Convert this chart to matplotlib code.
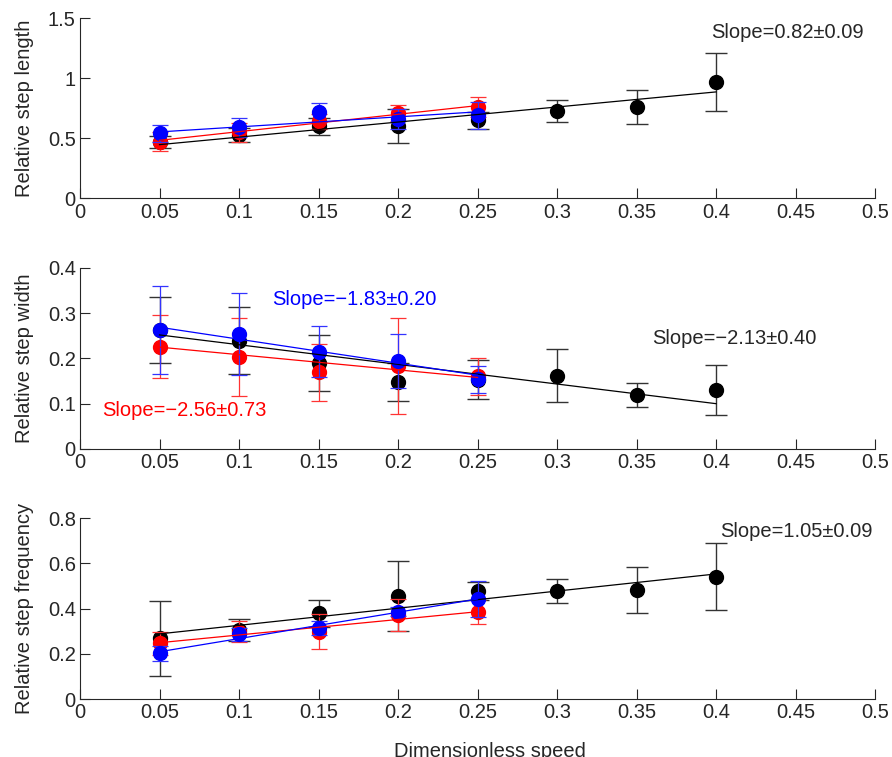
import numpy as np
import matplotlib
matplotlib.use("Agg")
import matplotlib.pyplot as plt

plt.rcParams['font.family'] = ['Liberation Sans', 'DejaVu Sans']

# speeds
x_all = [0.05, 0.1, 0.15, 0.2, 0.25, 0.3, 0.35, 0.4]
x_sub = [0.05, 0.1, 0.15, 0.2, 0.25]

# relative step length
len_k = [0.47, 0.525, 0.60, 0.60, 0.65, 0.725, 0.76, 0.97]
len_k_err = [0.05, 0.06, 0.07, 0.14, 0.07, 0.09, 0.14, 0.24]
len_r = [0.47, 0.55, 0.64, 0.71, 0.76]
len_r_err = [0.08, 0.08, 0.06, 0.07, 0.08]
len_b = [0.54, 0.59, 0.715, 0.66, 0.69]
len_b_err = [0.07, 0.08, 0.08, 0.08, 0.11]
len_fit_k = [0.447, 0.886]
len_fit_r = [0.483, 0.772]
len_fit_b = [0.553, 0.72]

# relative step width
wid_k = [0.263, 0.239, 0.189, 0.147, 0.153, 0.162, 0.119, 0.13]
wid_k_err = [0.072, 0.074, 0.062, 0.042, 0.043, 0.059, 0.027, 0.055]
wid_r = [0.226, 0.204, 0.169, 0.183, 0.161]
wid_r_err = [0.07, 0.086, 0.062, 0.106, 0.041]
wid_b = [0.263, 0.254, 0.215, 0.194, 0.154]
wid_b_err = [0.098, 0.09, 0.057, 0.06, 0.03]
wid_fit_k = [0.252, 0.10]
wid_fit_r = [0.225, 0.158]
wid_fit_b = [0.269, 0.163]

# relative step frequency
frq_k = [0.268, 0.305, 0.379, 0.456, 0.478, 0.478, 0.482, 0.541]
frq_k_err = [0.165, 0.048, 0.06, 0.155, 0.04, 0.052, 0.10, 0.147]
frq_r = [0.246, 0.298, 0.298, 0.372, 0.386]
frq_r_err = [0.05, 0.047, 0.079, 0.07, 0.054]
frq_b = [0.202, 0.286, 0.313, 0.386, 0.442]
frq_b_err = [0.034, 0.03, 0.03, 0.02, 0.08]
frq_fit_k = [0.288, 0.553]
frq_fit_r = [0.249, 0.386]
frq_fit_b = [0.209, 0.442]

fig = plt.figure(figsize=(8.92, 7.57), dpi=100)
left, width = 0.0897, 0.8913
ax1 = fig.add_axes([left, 0.738, width, 0.238])
ax2 = fig.add_axes([left, 0.407, width, 0.239])
ax3 = fig.add_axes([left, 0.0766, width, 0.239])

fs = 14.5

def panel(ax, k, ke, r, re, b, be, fk, fr, fb):
    ax.errorbar(x_all, k, yerr=ke, fmt='o', color='black', ecolor='#333333',
                ms=10, elinewidth=1, capsize=8, capthick=1, zorder=3)
    ax.errorbar(x_sub, r, yerr=re, fmt='o', color='#ff0000', ecolor='#ff3333',
                ms=10, elinewidth=0.9, capsize=6, capthick=0.9, zorder=4)
    ax.errorbar(x_sub, b, yerr=be, fmt='o', color='#0000ff', ecolor='#3333ff',
                ms=10, elinewidth=0.9, capsize=6, capthick=0.9, zorder=5)
    ax.plot([x_all[0], x_all[-1]], fk, color='black', lw=0.9, zorder=6)
    ax.plot([x_sub[0], x_sub[-1]], fr, color='#ff0000', lw=0.9, zorder=6)
    ax.plot([x_sub[0], x_sub[-1]], fb, color='#0000ff', lw=0.9, zorder=6)
    ax.set_xlim(0, 0.5)
    ax.set_xticks([0, 0.05, 0.1, 0.15, 0.2, 0.25, 0.3, 0.35, 0.4, 0.45, 0.5])
    ax.set_xticklabels(['0', '0.05', '0.1', '0.15', '0.2', '0.25', '0.3',
                        '0.35', '0.4', '0.45', '0.5'])
    for s in ['top', 'right']:
        ax.spines[s].set_visible(False)
    for s in ['left', 'bottom']:
        ax.spines[s].set_color('#262626')
    ax.tick_params(direction='in', length=7, width=0.8, labelsize=fs,
                   colors='#262626', pad=3)

panel(ax1, len_k, len_k_err, len_r, len_r_err, len_b, len_b_err,
      len_fit_k, len_fit_r, len_fit_b)
ax1.set_ylim(0, 1.5)
ax1.set_yticks([0, 0.5, 1, 1.5])
ax1.set_yticklabels(['0', '0.5', '1', '1.5'])
ax1.set_ylabel('Relative step length', fontsize=fs, color='#262626')
ax1.text(0.397, 1.383, 'Slope=0.82\u00b10.09', fontsize=fs, va='center', color='#262626')

panel(ax2, wid_k, wid_k_err, wid_r, wid_r_err, wid_b, wid_b_err,
      wid_fit_k, wid_fit_r, wid_fit_b)
ax2.set_ylim(0, 0.4)
ax2.set_yticks([0, 0.1, 0.2, 0.3, 0.4])
ax2.set_yticklabels(['0', '0.1', '0.2', '0.3', '0.4'])
ax2.set_ylabel('Relative step width', fontsize=fs, color='#262626')
ax2.text(0.121, 0.33, 'Slope=\u22121.83\u00b10.20', fontsize=fs, va='center', color='#0000ff')
ax2.text(0.0138, 0.086, 'Slope=\u22122.56\u00b10.73', fontsize=fs, va='center', color='#ff0000')
ax2.text(0.36, 0.245, 'Slope=\u22122.13\u00b10.40', fontsize=fs, va='center', color='#262626')

panel(ax3, frq_k, frq_k_err, frq_r, frq_r_err, frq_b, frq_b_err,
      frq_fit_k, frq_fit_r, frq_fit_b)
ax3.set_ylim(0, 0.8)
ax3.set_yticks([0, 0.2, 0.4, 0.6, 0.8])
ax3.set_yticklabels(['0', '0.2', '0.4', '0.6', '0.8'])
ax3.set_ylabel('Relative step frequency', fontsize=fs, color='#262626')
ax3.text(0.4025, 0.739, 'Slope=1.05\u00b10.09', fontsize=fs, va='center', color='#262626')
ax3.set_xlabel('Dimensionless speed', fontsize=fs, color='#262626')
ax3.xaxis.set_label_coords(0.516, -0.235)

for ax in (ax1, ax2, ax3):
    ax.yaxis.set_label_coords(-0.058, 0.5)

fig.savefig('out.png', dpi=100)
